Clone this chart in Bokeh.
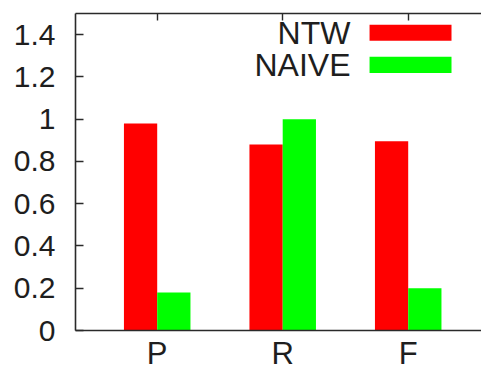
from bokeh.plotting import figure
from bokeh.models import (ColumnDataSource, FixedTicker, LinearAxis, NumeralTickFormatter,
                          Range1d, Label, BoxAnnotation)
from bokeh.transform import dodge
from bokeh.embed import file_html
from bokeh.resources import INLINE

# ---- data ----
categories = ["P", "R", "F"]
positions = [0, 1, 2]
ntw = [0.98, 0.88, 0.895]
naive = [0.18, 1.0, 0.20]
series_names = ["NTW", "NAIVE"]
yticks = [0, 0.2, 0.4, 0.6, 0.8, 1.0, 1.2, 1.4]

src = ColumnDataSource(dict(x=positions, ntw=ntw, naive=naive))

FONT = "Liberation Sans"
TXT = "#1e1e1e"
LINE = "#2a2a2a"

p = figure(width=481, height=373, output_backend="svg", toolbar_location=None,
           x_range=Range1d(-0.651, 2.584), y_range=Range1d(0, 1.5),
           min_border_left=75, min_border_right=0, min_border_top=13, min_border_bottom=43,
           x_axis_location=None, y_axis_location=None)
p.outline_line_color = None
p.xgrid.visible = False
p.ygrid.visible = False
p.background_fill_color = "white"
p.border_fill_color = "white"

bw = 0.265
p.vbar(x=dodge("x", -bw / 2), top="ntw", width=bw, source=src,
       fill_color="#ff0000", line_color=None)
p.vbar(x=dodge("x", bw / 2), top="naive", width=bw, source=src,
       fill_color="#00ff00", line_color=None)

# left axis
ly = LinearAxis(ticker=FixedTicker(ticks=yticks),
                formatter=NumeralTickFormatter(format="0.[0]"))
ly.major_tick_in = 8
ly.major_tick_out = 0
ly.minor_tick_line_color = None
ly.axis_line_color = LINE
ly.axis_line_width = 1.6
ly.major_tick_line_color = LINE
ly.major_tick_line_width = 1.4
ly.major_label_standoff = 20
ly.major_label_text_font = FONT
ly.major_label_text_font_size = "30px"
ly.major_label_text_color = TXT
p.add_layout(ly, "left")

# bottom axis with category names
bx = LinearAxis(ticker=FixedTicker(ticks=positions),
                major_label_overrides={i: c for i, c in zip(positions, categories)})
bx.major_tick_line_color = None
bx.major_tick_in = 0
bx.major_tick_out = 0
bx.minor_tick_line_color = None
bx.axis_line_color = LINE
bx.axis_line_width = 1.6
bx.major_label_standoff = 5
bx.major_label_text_font = FONT
bx.major_label_text_font_size = "31px"
bx.major_label_text_color = TXT
p.add_layout(bx, "below")

# top axis (frame with mirrored ticks)
tx = LinearAxis(ticker=FixedTicker(ticks=positions),
                major_label_overrides={i: "" for i in positions})
tx.major_tick_in = 7
tx.major_tick_out = 0
tx.minor_tick_line_color = None
tx.axis_line_color = LINE
tx.axis_line_width = 1.6
tx.major_tick_line_color = LINE
tx.major_tick_line_width = 1.4
tx.major_label_standoff = 0
tx.major_label_text_font_size = "0px"
p.add_layout(tx, "above")

# legend (text right-aligned, swatch to the right, as in gnuplot)
colors = ["#ff0000", "#00ff00"]
leg_y = [1.409, 1.257]
for name, col, yy in zip(series_names, colors, leg_y):
    p.add_layout(Label(x=1.54, y=yy, text=name, text_align="right", text_baseline="middle",
                       text_font=FONT, text_font_size="32px", text_color=TXT))
    p.add_layout(BoxAnnotation(left=1.692, right=2.345, bottom=yy - 0.038, top=yy + 0.038,
                               fill_color=col, fill_alpha=1.0, line_color=None))

open("out.html", "w").write(file_html(p, INLINE))
